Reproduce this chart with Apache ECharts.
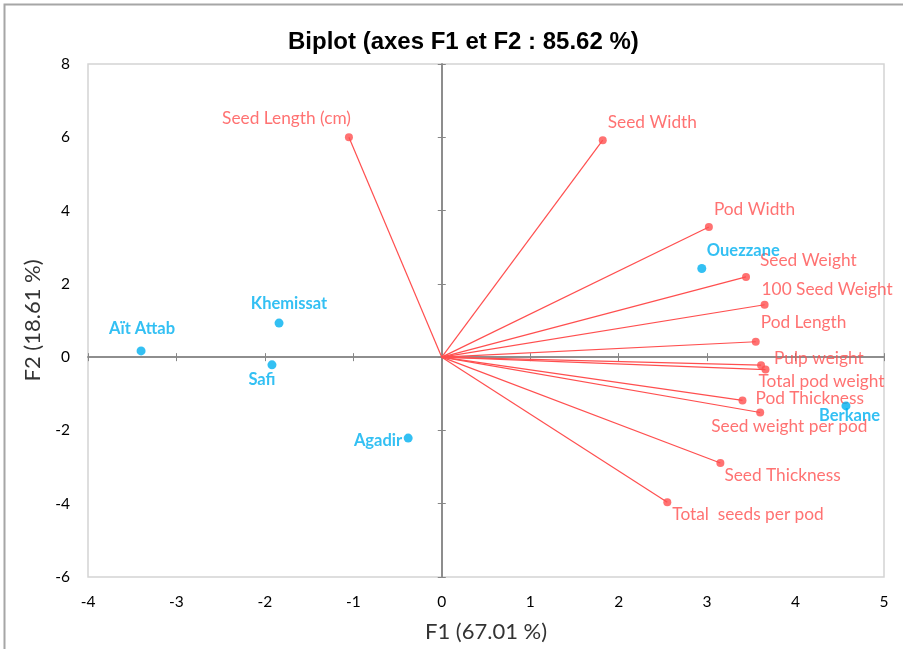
<!DOCTYPE html>
<html>
<head>
<meta charset="utf-8">
<script src="https://cdn.jsdelivr.net/npm/echarts@6/dist/echarts.min.js"></script>
<style>
html,body{margin:0;padding:0;background:#fff;}
#chart{width:903px;height:649px;}
</style>
</head>
<body>
<div id="chart"></div>
<script>
// ---- Data ----
const varNames = ['Seed Length (cm)', 'Seed Width', 'Pod Width', 'Seed Weight', '100 Seed Weight', 'Pod Length',
  'Pulp weight', 'Total pod weight', 'Pod Thickness', 'Seed weight per pod', 'Seed Thickness', 'Total  seeds per pod'];
const varF1 = [-1.05, 1.82, 3.02, 3.44, 3.65, 3.55, 3.61, 3.66, 3.40, 3.60, 3.15, 2.55];
const varF2 = [6.00, 5.92, 3.55, 2.19, 1.43, 0.42, -0.22, -0.34, -1.18, -1.51, -2.89, -3.96];

const obsNames = ['Ouezzane', 'Berkane', 'Aït Attab', 'Khemissat', 'Safi', 'Agadir'];
const obsF1 = [2.94, 4.57, -3.40, -1.84, -1.92, -0.38];
const obsF2 = [2.42, -1.33, 0.17, 0.93, -0.21, -2.21];

const xMin = -4, xMax = 5, xStep = 1;
const yMin = -6, yMax = 8, yStep = 2;

const titleText = 'Biplot (axes F1 et F2 : 85.62 %)';
const xName = 'F1 (67.01 %)';
const yName = 'F2 (18.61 %)';

// ---- Label layout (offsets in px from marker centre) ----
const labelLayout = {
  'Seed Length (cm)': [2, -19, 'right'],
  'Seed Width': [5, -18, 'left'],
  'Pod Width': [5, -18, 'left'],
  'Seed Weight': [14, -16, 'left'],
  '100 Seed Weight': [-3, -15, 'left'],
  'Pod Length': [5, -19, 'left'],
  'Pulp weight': [13, -7, 'left'],
  'Total pod weight': [-7, 12, 'left'],
  'Pod Thickness': [13, -2, 'left'],
  'Seed weight per pod': [-49, 14, 'left'],
  'Seed Thickness': [4, 12, 'left'],
  'Total  seeds per pod': [5, 12, 'left'],
  'Ouezzane': [5, -18, 'left'],
  'Berkane': [-27, 10, 'left'],
  'Aït Attab': [1, -22, 'center'],
  'Khemissat': [10, -19, 'center'],
  'Safi': [-10, 15, 'center'],
  'Agadir': [-6, 3, 'right']
};

const RED = '#FF4F4F';
const BLUE = '#00B0F0';
const AXIS_GRAY = '#868686';
const FONT = 'Lato, "Open Sans", sans-serif';

function labelFor(name, color, bold) {
  const l = labelLayout[name];
  return {
    show: true,
    position: 'inside',
    offset: [l[0], l[1]],
    align: l[2],
    verticalAlign: 'middle',
    formatter: name,
    color: color,
    fontSize: bold ? 16.5 : 17.3,
    fontFamily: FONT,
    fontWeight: bold ? 'bold' : 'normal'
  };
}

const varPoints = varNames.map((n, i) => ({ name: n, value: [varF1[i], varF2[i]], label: labelFor(n, RED, false) }));
const obsPoints = obsNames.map((n, i) => ({ name: n, value: [obsF1[i], obsF2[i]], label: labelFor(n, BLUE, true) }));
const vectorLines = varNames.map((n, i) => ({ coords: [[0, 0], [varF1[i], varF2[i]]] }));

const chart = echarts.init(document.getElementById('chart'), null, { renderer: 'canvas' });

const baseAxisX = { type: 'value', min: xMin, max: xMax, interval: xStep, position: 'bottom', splitLine: { show: false } };
const baseAxisY = { type: 'value', min: yMin, max: yMax, interval: yStep, position: 'left', splitLine: { show: false } };

const option = {
  backgroundColor: '#fff',
  animation: false,
  title: {
    text: titleText,
    left: 283,
    top: 25,
    textStyle: { fontFamily: '"Liberation Sans", Arial, sans-serif', fontWeight: 'bold', fontSize: 24, color: '#000' }
  },
  grid: {
    left: 88, right: 19, top: 64, bottom: 72,
    show: true, borderColor: '#D4D4D4', borderWidth: 1.5, backgroundColor: 'transparent',
    containLabel: false, outerBoundsMode: 'none'
  },
  xAxis: [
    Object.assign({}, baseAxisX, {
      axisLine: { show: false, onZero: false },
      axisTick: { show: false },
      axisLabel: { show: true, margin: 17, fontSize: 15.5, color: '#000', fontFamily: FONT },
      name: xName, nameLocation: 'middle', nameGap: 44,
      nameTextStyle: { fontSize: 22, color: '#333', fontFamily: FONT }
    }),
    Object.assign({}, baseAxisX, {
      axisLine: { show: true, onZero: true, onZeroAxisIndex: 0, lineStyle: { color: AXIS_GRAY, width: 1.5 } },
      axisTick: { show: true, inside: false, length: 4, lineStyle: { color: AXIS_GRAY, width: 1 } },
      axisLabel: { show: false }
    }),
    Object.assign({}, baseAxisX, {
      axisLine: { show: true, onZero: true, onZeroAxisIndex: 0, lineStyle: { color: AXIS_GRAY, width: 1.5 } },
      axisTick: { show: true, inside: true, length: 4, lineStyle: { color: AXIS_GRAY, width: 1 } },
      axisLabel: { show: false }
    })
  ],
  yAxis: [
    Object.assign({}, baseAxisY, {
      axisLine: { show: false, onZero: false },
      axisTick: { show: false },
      axisLabel: { show: true, margin: 18, fontSize: 15.5, color: '#000', fontFamily: FONT },
      name: yName, nameLocation: 'middle', nameGap: 42, nameRotate: 90,
      nameTextStyle: { fontSize: 22, color: '#333', fontFamily: FONT }
    }),
    Object.assign({}, baseAxisY, {
      axisLine: { show: true, onZero: true, onZeroAxisIndex: 0, lineStyle: { color: AXIS_GRAY, width: 1.5 } },
      axisTick: { show: true, inside: false, length: 4, lineStyle: { color: AXIS_GRAY, width: 1 } },
      axisLabel: { show: false }
    }),
    Object.assign({}, baseAxisY, {
      axisLine: { show: true, onZero: true, onZeroAxisIndex: 0, lineStyle: { color: AXIS_GRAY, width: 1.5 } },
      axisTick: { show: true, inside: true, length: 4, lineStyle: { color: AXIS_GRAY, width: 1 } },
      axisLabel: { show: false }
    })
  ],
  graphic: [{
    type: 'polyline',
    shape: { points: [[4.5, 649], [4.5, 4.5], [903, 4.5]] },
    style: { stroke: '#A6A6A6', lineWidth: 2, fill: null },
    silent: true
  }],
  series: [
    {
      type: 'lines',
      coordinateSystem: 'cartesian2d',
      xAxisIndex: 0, yAxisIndex: 0,
      data: vectorLines,
      lineStyle: { color: RED, width: 1.2, opacity: 1, curveness: 0 },
      symbol: 'none',
      silent: true,
      z: 3
    },
    {
      type: 'scatter',
      xAxisIndex: 0, yAxisIndex: 0,
      data: varPoints,
      symbol: 'circle',
      symbolSize: 8,
      itemStyle: { color: RED },
      z: 4
    },
    {
      type: 'scatter',
      xAxisIndex: 0, yAxisIndex: 0,
      data: obsPoints,
      symbol: 'circle',
      symbolSize: 9,
      itemStyle: { color: BLUE },
      z: 5
    }
  ]
};

chart.setOption(option);
</script>
</body>
</html>
